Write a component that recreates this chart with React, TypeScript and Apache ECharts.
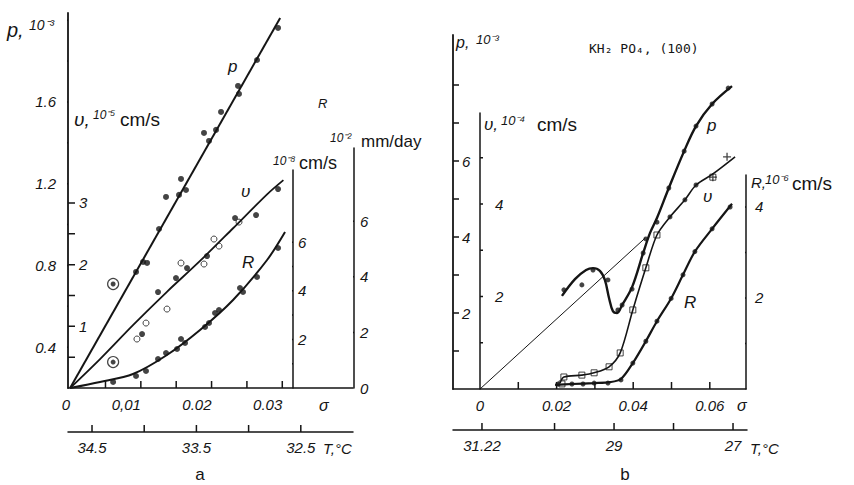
import React, { useEffect, useRef } from "react";
import * as echarts from "echarts";

// ---------- Panel a data (sigma, value) ----------
const pA_line = [[0, 0.2], [0.0297, 2.011]];
const pA_points = [
  [0.00932, 0.768], [0.01031, 0.817], [0.01088, 0.812], [0.01257, 0.978], [0.01356, 1.135],
  [0.0154, 1.145], [0.01568, 1.223], [0.01639, 1.169], [0.01893, 1.448], [0.01964, 1.409],
  [0.02063, 1.463], [0.02134, 1.551], [0.02374, 1.678], [0.02388, 1.639], [0.02643, 1.805],
  [0.0294, 1.962],
];
const circled_points = [[0.00608, 0.709], [0.00608, 0.327]];
const vA_curve = [
  [0, 0], [0.00423, 0.47], [0.00889, 1.02], [0.01369, 1.56], [0.01837, 2.06],
  [0.02304, 2.59], [0.02785, 3.14], [0.03016, 3.37],
];
const vA_filled = [
  [0.0294, 3.225], [0.02629, 2.804], [0.02332, 2.755], [0.01936, 2.139], [0.01653, 1.945],
  [0.01497, 1.783], [0.01243, 1.556], [0.01017, 0.875],
];
const vA_open = [
  [0.02388, 2.69], [0.02105, 2.301], [0.02034, 2.415], [0.01893, 2.01], [0.01568, 2.026],
  [0.0137, 1.28], [0.01073, 1.053], [0.00945, 0.794],
];
const RA_curve = [
  [0, 0], [0.00423, 0.247], [0.00889, 0.576], [0.01369, 1.358], [0.01837, 2.387],
  [0.02304, 3.621], [0.02785, 5.267], [0.03039, 6.42],
];
const RA_points = [
  [0.00608, 0.247], [0.00932, 0.494], [0.01073, 0.7], [0.01243, 1.193], [0.01356, 1.44],
  [0.01512, 1.605], [0.01568, 2.016], [0.01625, 1.852], [0.01908, 2.51], [0.01964, 2.675],
  [0.02049, 3.086], [0.02105, 3.21], [0.02402, 4.115], [0.02445, 3.951], [0.02643, 4.568],
  [0.0294, 5.761],
];

// ---------- Panel b data ----------
const pB_curve = [
  [0.0214, 2.45], [0.0248, 2.89], [0.0277, 3.13], [0.0295, 3.18], [0.0313, 3.11],
  [0.0326, 2.87], [0.0337, 2.39], [0.0347, 2.05], [0.0358, 2.0], [0.0371, 2.21],
  [0.0397, 2.68], [0.0426, 3.58], [0.0444, 4.11], [0.0462, 4.5], [0.0493, 5.29],
  [0.0533, 6.26], [0.0564, 6.92], [0.0606, 7.5], [0.0658, 7.97],
];
const pB_points = [
  [0.0219, 2.61], [0.0266, 2.74], [0.0295, 3.13], [0.0334, 2.87], [0.036, 2.08],
  [0.0371, 2.21], [0.0397, 2.63], [0.0426, 3.58], [0.0433, 3.95], [0.0462, 4.39],
  [0.0493, 5.29], [0.0533, 6.26], [0.0564, 6.92], [0.0606, 7.5], [0.0648, 7.92],
];
const pB_diagonal = [[0, 0], [0.0431, 3.97]];
const vB_curve = [
  [0.0209, 0.13], [0.0219, 0.26], [0.0266, 0.3], [0.0298, 0.35], [0.0337, 0.48],
  [0.0366, 0.78], [0.0399, 1.71], [0.0433, 2.62], [0.0462, 3.33], [0.0496, 3.72],
  [0.0535, 4.09], [0.0564, 4.41], [0.0608, 4.65], [0.0666, 5.02],
];
const vB_squares = [
  [0.0214, 0.11], [0.0219, 0.26], [0.0266, 0.3], [0.0298, 0.35], [0.0337, 0.48],
  [0.0366, 0.78], [0.0399, 1.71], [0.0433, 2.62], [0.0462, 3.33], [0.0608, 4.58],
];
const vB_dots = [[0.0496, 3.72], [0.0535, 4.09], [0.0564, 4.41]];
const vB_cross = [[0.0645, 5.02], [0.0608, 4.58]];
const RB_curve = [
  [0.0196, 0.09], [0.024, 0.11], [0.0298, 0.13], [0.0339, 0.15], [0.0368, 0.22],
  [0.0399, 0.57], [0.0433, 1.05], [0.0462, 1.49], [0.0499, 1.99], [0.053, 2.51],
  [0.0561, 3.02], [0.0606, 3.52], [0.0658, 4.07],
];
const RB_points = [
  [0.0204, 0.11], [0.024, 0.11], [0.0269, 0.11], [0.0298, 0.13], [0.0334, 0.13],
  [0.0368, 0.2], [0.0399, 0.57], [0.0433, 1.05], [0.0462, 1.49], [0.0499, 1.99],
  [0.053, 2.51], [0.0561, 3.02], [0.0606, 3.52], [0.0653, 4.0],
];

// ---------- Ticks and labels ----------
const sigmaA_ticks = [0.005, 0.01, 0.015, 0.02, 0.025, 0.03];
const sigmaA_labels = [0, 0.01, 0.02, 0.03];
const pA_ticks = [0.4, 0.6, 0.8, 1.0, 1.2, 1.4, 1.6, 1.8, 2.0];
const pA_labels = [0.4, 0.8, 1.2, 1.6];
const vA_ticks = [0.5, 1, 1.5, 2, 2.5, 3];
const vA_labels = [1, 2, 3];
const R1_ticks = [1, 2, 3, 4, 5, 6];
const R1_labels = [2, 4, 6];
const R2_ticks = [2, 4, 6];
const R2_labels = [0, 2, 4, 6];
const TA_ticks = [34.5, 34, 33.5, 33, 32.5];
const TA_labels = [34.5, 33.5, 32.5];
const sigmaB_ticks = [0.01, 0.02, 0.03, 0.04, 0.05, 0.06];
const sigmaB_labels = [0, 0.02, 0.04, 0.06];
const pB_ticks = [1, 2, 3, 4, 5, 6, 7, 8];
const pB_labels = [2, 4, 6];
const vB_ticks = [1, 2, 3, 4, 5];
const vB_labels = [2, 4];
const RB_ticks = [1, 2, 3, 4];
const RB_labels = [2, 4];
const TB_ticks = [31.22, 30, 29, 28, 27];
const TB_labels = [31.22, 29, 27];

const INK = "#151515";
const FONT = "Liberation Sans";

const labelStyle = () => ({
  color: INK,
  fontFamily: FONT,
  fontStyle: "italic",
  fontSize: 15,
});

const txt = (text: string, x: number, y: number, size: number, opts: any = {}) => ({
  type: "text",
  x,
  y,
  silent: true,
  style: {
    text,
    fontSize: size,
    fontFamily: opts.family || FONT,
    fontStyle: opts.italic ? "italic" : "normal",
    fill: INK,
    textAlign: opts.align || "left",
    align: opts.align || "left",
    textVerticalAlign: "middle",
    verticalAlign: "middle",
  },
});

export default function App() {
  const ref = useRef<HTMLDivElement>(null);
  useEffect(() => {
    if (!ref.current) return;
    const chart = echarts.init(ref.current, null, { renderer: "svg" });
    const line = { color: INK, width: 1.5 };
    const thick = { color: INK, width: 1.8 };
    const hidden = (gridIndex: number) => ({ type: "value", gridIndex, show: false, min: 0, max: 1 });
    const axis = (gridIndex: number, min: number, max: number, labels: number[] | null, extra: any = {}, labelExtra: any = {}) => ({
      type: "value", gridIndex, min, max,
      splitLine: { show: false },
      axisLine: { show: true, onZero: false, lineStyle: line },
      axisTick: { show: false },
      axisLabel: labels
        ? { show: true, ...labelStyle(), customValues: labels, ...labelExtra }
        : { show: false },
      ...extra,
    });

    // Tick marks as short line segments in data units (broken by nulls)
    const tickLine = (xi: number, yi: number, vals: number[], isX: boolean, base: number, delta: number) => {
      const data: any[] = [];
      vals.forEach((v) => {
        if (isX) { data.push([v, base]); data.push([v, base + delta]); }
        else { data.push([base, v]); data.push([base + delta, v]); }
        data.push(null);
      });
      return {
        type: "line", xAxisIndex: xi, yAxisIndex: yi, data, clip: false, silent: true,
        symbol: "none", connectNulls: false, z: 5,
        lineStyle: { color: INK, width: 1.5 },
      };
    };

    const grid = [
      { left: 68, top: 13, width: 285, height: 375 }, // 0 panel a
      { left: 453, top: 35, width: 293, height: 354 }, // 1 panel b
      { left: 68, top: 420, width: 285, height: 12 }, // 2 T a
      { left: 453, top: 418, width: 294, height: 12 }, // 3 T b
      { left: 293, top: 170, width: 1, height: 218 }, // 4 R 1e-8 cm/s
      { left: 354, top: 148, width: 1, height: 240 }, // 5 R mm/day
      { left: 480, top: 113, width: 1, height: 276 }, // 6 v b
      { left: 746, top: 175, width: 1, height: 214 }, // 7 R b
    ].map((g) => ({ ...g, outerBoundsMode: "none", containLabel: false }));

    const SA_MIN = -0.0003, SA_MAX = 0.04, PA_MIN = 0.2, PA_MAX = 2.035;
    const SB_MIN = -0.00705, SB_MAX = 0.06945, PB_MAX = 9.316;
    // data units per pixel for the tick lengths
    const sA_px = (SA_MAX - SA_MIN) / 285;
    const pA_px = (PA_MAX - PA_MIN) / 375;
    const sB_px = (SB_MAX - SB_MIN) / 293;
    const pB_px = PB_MAX / 354;

    const xAxis = [
      axis(0, SA_MIN, SA_MAX, sigmaA_labels, { position: "bottom" }, {
        align: "right", margin: 9,
        formatter: (v: number) => (v === 0 ? "0" : Math.abs(v - 0.01) < 1e-9 ? "0,01" : v.toFixed(2)),
      }),
      axis(1, SB_MIN, SB_MAX, sigmaB_labels, { position: "bottom" }, {
        margin: 9, formatter: (v: number) => (v === 0 ? "0" : v.toFixed(2)),
      }),
      axis(2, 32.0, 34.73, TA_labels, { inverse: true, position: "bottom" }, {
        margin: 8, formatter: (v: number) => v.toFixed(1),
      }),
      axis(3, 26.765, 31.707, TB_labels, { inverse: true, position: "bottom" }, {
        margin: 8, formatter: (v: number) => (Math.abs(v - 31.22) < 1e-9 ? "31.22" : String(v)),
      }),
      hidden(4), hidden(5), hidden(6), hidden(7),
    ];
    const yAxis = [
      axis(0, PA_MIN, PA_MAX, pA_labels, { position: "left", axisLine: { show: true, onZero: false, lineStyle: thick } }, {
        margin: 12, formatter: (v: number) => v.toFixed(1),
      }), // 0 p a
      axis(0, 0, 6.08, vA_labels, { position: "left", axisLine: { show: false, onZero: false } }, {
        inside: true, margin: 11,
      }), // 1 v a
      { type: "value", gridIndex: 0, min: 0, max: 15.43, show: false }, // 2 R a (1e-8 cm/s scale)
      axis(1, 0, PB_MAX, pB_labels, { position: "left", axisLine: { show: true, onZero: false, lineStyle: thick } }, {
        inside: true, margin: 9,
      }), // 3 p b
      { type: "value", gridIndex: 1, min: 0, max: 7.654, show: false }, // 4 v b
      { type: "value", gridIndex: 1, min: 0, max: 7.78, show: false }, // 5 R b
      { type: "value", gridIndex: 2, show: false, min: 0, max: 12 }, // 6 (1 unit = 1 px)
      { type: "value", gridIndex: 3, show: false, min: 0, max: 12 }, // 7
      axis(4, 0, 8.97, R1_labels, { position: "left" }, { inside: true, margin: 5 }), // 8
      axis(5, 0, 8.63, R2_labels, { position: "left" }, { inside: true, margin: 6 }), // 9
      axis(6, 0, 5.97, vB_labels, { position: "left" }, { inside: true, margin: 15 }), // 10
      axis(7, 0, 4.703, RB_labels, { position: "left" }, { inside: true, margin: 9 }), // 11
    ];

    const option: any = {
      animation: false,
      backgroundColor: "#ffffff",
      grid,
      xAxis,
      yAxis,
      series: [
        // panel a
        { type: "line", xAxisIndex: 0, yAxisIndex: 0, data: pA_line, symbol: "none", lineStyle: { color: INK, width: 2 } },
        { type: "scatter", xAxisIndex: 0, yAxisIndex: 0, data: pA_points, symbol: "circle", symbolSize: 6, itemStyle: { color: INK } },
        { type: "scatter", xAxisIndex: 0, yAxisIndex: 0, data: circled_points, symbol: "circle", symbolSize: 11, itemStyle: { color: "#fff", borderColor: INK, borderWidth: 1.2 } },
        { type: "scatter", xAxisIndex: 0, yAxisIndex: 0, data: circled_points, symbol: "circle", symbolSize: 5, itemStyle: { color: INK } },
        { type: "line", xAxisIndex: 0, yAxisIndex: 1, data: vA_curve, smooth: 0.3, symbol: "none", lineStyle: { color: INK, width: 1.8 } },
        { type: "scatter", xAxisIndex: 0, yAxisIndex: 1, data: vA_filled, symbol: "circle", symbolSize: 6, itemStyle: { color: INK } },
        { type: "scatter", xAxisIndex: 0, yAxisIndex: 1, data: vA_open, symbol: "circle", symbolSize: 6, itemStyle: { color: "#fff", borderColor: INK, borderWidth: 1 } },
        { type: "line", xAxisIndex: 0, yAxisIndex: 2, data: RA_curve, smooth: 0.3, symbol: "none", lineStyle: { color: INK, width: 2 } },
        { type: "scatter", xAxisIndex: 0, yAxisIndex: 2, data: RA_points, symbol: "circle", symbolSize: 6, itemStyle: { color: INK } },
        // panel b
        { type: "line", xAxisIndex: 1, yAxisIndex: 3, data: pB_diagonal, symbol: "none", lineStyle: { color: INK, width: 1 } },
        { type: "line", xAxisIndex: 1, yAxisIndex: 3, data: pB_curve, smooth: 0.35, symbol: "none", lineStyle: { color: INK, width: 2.4 } },
        { type: "scatter", xAxisIndex: 1, yAxisIndex: 3, data: pB_points, symbol: "circle", symbolSize: 5, itemStyle: { color: INK } },
        { type: "line", xAxisIndex: 1, yAxisIndex: 4, data: vB_curve, smooth: 0.3, symbol: "none", lineStyle: { color: INK, width: 1.6 } },
        { type: "scatter", xAxisIndex: 1, yAxisIndex: 4, data: vB_squares, symbol: "rect", symbolSize: 6, itemStyle: { color: "#fff", borderColor: INK, borderWidth: 1 } },
        { type: "scatter", xAxisIndex: 1, yAxisIndex: 4, data: vB_dots, symbol: "circle", symbolSize: 5, itemStyle: { color: INK } },
        { type: "scatter", xAxisIndex: 1, yAxisIndex: 4, data: vB_cross, symbol: "path://M0,5L10,5M5,0L5,10", symbolSize: 8, itemStyle: { color: "none", borderColor: INK, borderWidth: 1.3 } },
        { type: "line", xAxisIndex: 1, yAxisIndex: 5, data: RB_curve, smooth: 0.3, symbol: "none", lineStyle: { color: INK, width: 2.2 } },
        { type: "scatter", xAxisIndex: 1, yAxisIndex: 5, data: RB_points, symbol: "circle", symbolSize: 5, itemStyle: { color: INK } },
        // axis ticks
        tickLine(0, 0, sigmaA_ticks, true, PA_MIN, 7 * pA_px),
        tickLine(0, 0, pA_ticks, false, SA_MIN, -7 * sA_px),
        tickLine(0, 1, vA_ticks, false, SA_MIN, 7 * sA_px),
        tickLine(4, 8, R1_ticks, false, 0, -6),
        tickLine(5, 9, R2_ticks, false, 0, -6),
        tickLine(2, 6, TA_ticks, true, 0, 7),
        tickLine(1, 3, sigmaB_ticks, true, 0, 7 * pB_px),
        tickLine(1, 3, pB_ticks, false, SB_MIN, 6 * sB_px),
        tickLine(6, 10, vB_ticks, false, 0, 8),
        tickLine(7, 11, RB_ticks, false, 0, -7),
        tickLine(3, 7, TB_ticks, true, 0, 7),
      ],
      graphic: [
        // panel a texts
        txt("p,", 7, 30, 20, { italic: true }),
        txt("10⁻³", 29, 25, 14, { italic: true }),
        txt("υ,", 74, 119, 19, { italic: true }),
        txt("10⁻⁵", 93, 115, 12, { italic: true }),
        txt("cm/s", 120, 119, 19),
        txt("10⁻⁸", 273, 161, 12, { italic: true }),
        txt("cm/s", 299, 163, 18),
        txt("10⁻²", 330, 138, 12, { italic: true }),
        txt("mm/day", 361, 141, 17),
        txt("R", 318, 103, 13, { italic: true }),
        txt("p", 228, 66, 17, { italic: true }),
        txt("υ", 241, 191, 17, { italic: true }),
        txt("R", 242, 262, 17, { italic: true }),
        txt("σ", 319, 405, 16, { italic: true }),
        txt("T,°C", 323, 448, 15, { italic: true }),
        txt("a", 200, 474, 17, { align: "center" }),
        // panel b texts
        txt("p,", 456, 42, 16, { italic: true }),
        txt("10⁻³", 476, 39, 13, { italic: true }),
        txt("KH₂ PO₄, (100)", 589, 48, 13, { family: "DejaVu Sans Mono" }),
        txt("υ,", 484, 124, 17, { italic: true }),
        txt("10⁻⁴", 501, 120, 13, { italic: true }),
        txt("cm/s", 537, 124, 19),
        txt("R,", 751, 182, 15, { italic: true }),
        txt("10⁻⁶", 765, 179, 13, { italic: true }),
        txt("cm/s", 792, 183, 19),
        txt("p", 707, 125, 17, { italic: true }),
        txt("υ", 703, 196, 17, { italic: true }),
        txt("R", 684, 302, 17, { italic: true }),
        txt("σ", 737, 405, 16, { italic: true }),
        txt("T,°C", 750, 448, 15, { italic: true }),
        txt("b", 625, 474, 17, { align: "center" }),
      ],
    };
    chart.setOption(option);
    return () => chart.dispose();
  }, []);
  return (
    <div
      ref={ref}
      style={{ position: "fixed", left: 0, top: 0, width: 854, height: 485, background: "#fff" }}
    />
  );
}
